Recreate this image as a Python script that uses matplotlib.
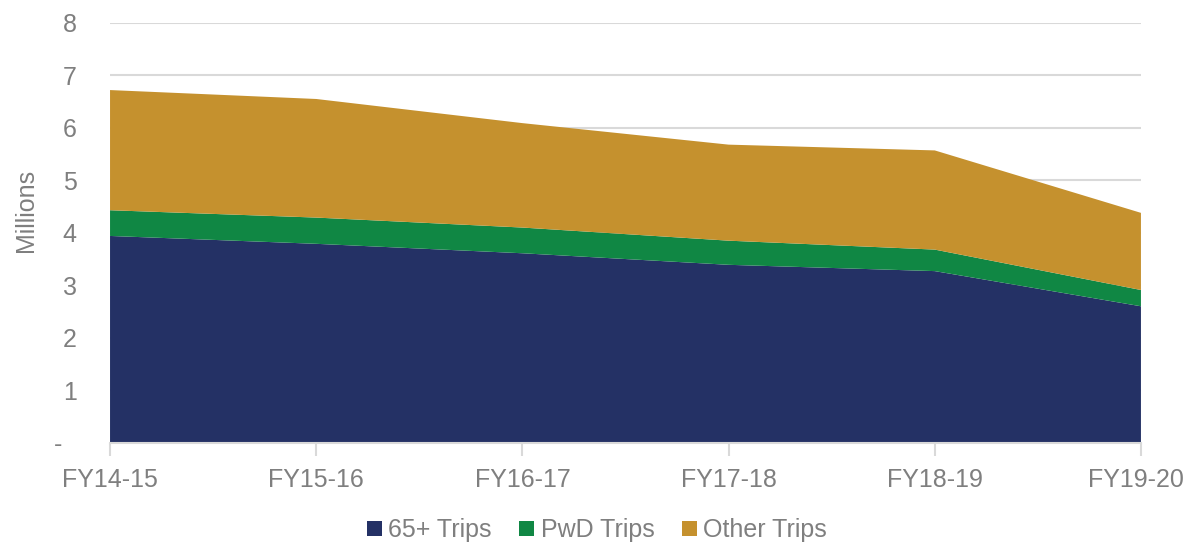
import matplotlib.pyplot as plt
from matplotlib.patches import Patch
from matplotlib.transforms import ScaledTranslation

# fiscal years and trips (millions), stacked
years = ["FY14-15", "FY15-16", "FY16-17", "FY17-18", "FY18-19", "FY19-20"]
senior_trips = [3.94, 3.79, 3.61, 3.39, 3.27, 2.60]
pwd_trips = [0.49, 0.50, 0.49, 0.46, 0.41, 0.31]
other_trips = [2.29, 2.26, 1.99, 1.83, 1.89, 1.47]

series_names = ["65+ Trips", "PwD Trips", "Other Trips"]
colors = ["#243165", "#108744", "#C5912E"]
text_grey = "#7F7F7F"
grid_grey = "#D9D9D9"

plt.rcParams["font.family"] = ["Liberation Sans", "DejaVu Sans"]

fig = plt.figure(figsize=(11.87, 5.45), dpi=100)
ax = fig.add_axes([0.0927, 0.1877, 0.8685, 0.7703])

x = list(range(len(years)))
ax.stackplot(x, senior_trips, pwd_trips, other_trips, colors=colors,
             edgecolor="none", zorder=2)

ax.set_xlim(0, len(years) - 1)
ax.set_ylim(0, 8)
ax.set_xticks(x)
ax.set_xticklabels(years)
ax.set_yticks(range(9))
ax.set_yticklabels(["-  "] + [str(i) for i in range(1, 9)])

ax.grid(axis="y", color=grid_grey, linewidth=1.5, zorder=0)
ax.set_axisbelow(True)
for side in ["top", "right", "left"]:
    ax.spines[side].set_visible(False)
ax.spines["bottom"].set_color(grid_grey)
ax.spines["bottom"].set_linewidth(1.5)
ax.spines["bottom"].set_zorder(3)

ax.tick_params(axis="x", colors=grid_grey, length=9, width=1.5, pad=9,
               labelcolor=text_grey, labelsize=18)
ax.tick_params(axis="y", length=0, pad=24, labelcolor=text_grey, labelsize=18)

# nudge the last label a little left so it stays inside the picture
last = ax.xaxis.get_major_ticks()[-1].label1
last.set_transform(last.get_transform() + ScaledTranslation(-0.05, 0, fig.dpi_scale_trans))

ax.set_ylabel("Millions", color=text_grey, fontsize=18)
ax.yaxis.set_label_coords(-0.07, 0.554)

handles = [Patch(facecolor=c, edgecolor="none") for c in colors]
fig.legend(handles, series_names, loc="center", bbox_to_anchor=(0.503, 0.027),
           ncol=3, frameon=False, fontsize=18, labelcolor=text_grey,
           handlelength=0.6, handleheight=0.6, handletextpad=0.25,
           columnspacing=1.1)

fig.savefig("out.png", dpi=100)
